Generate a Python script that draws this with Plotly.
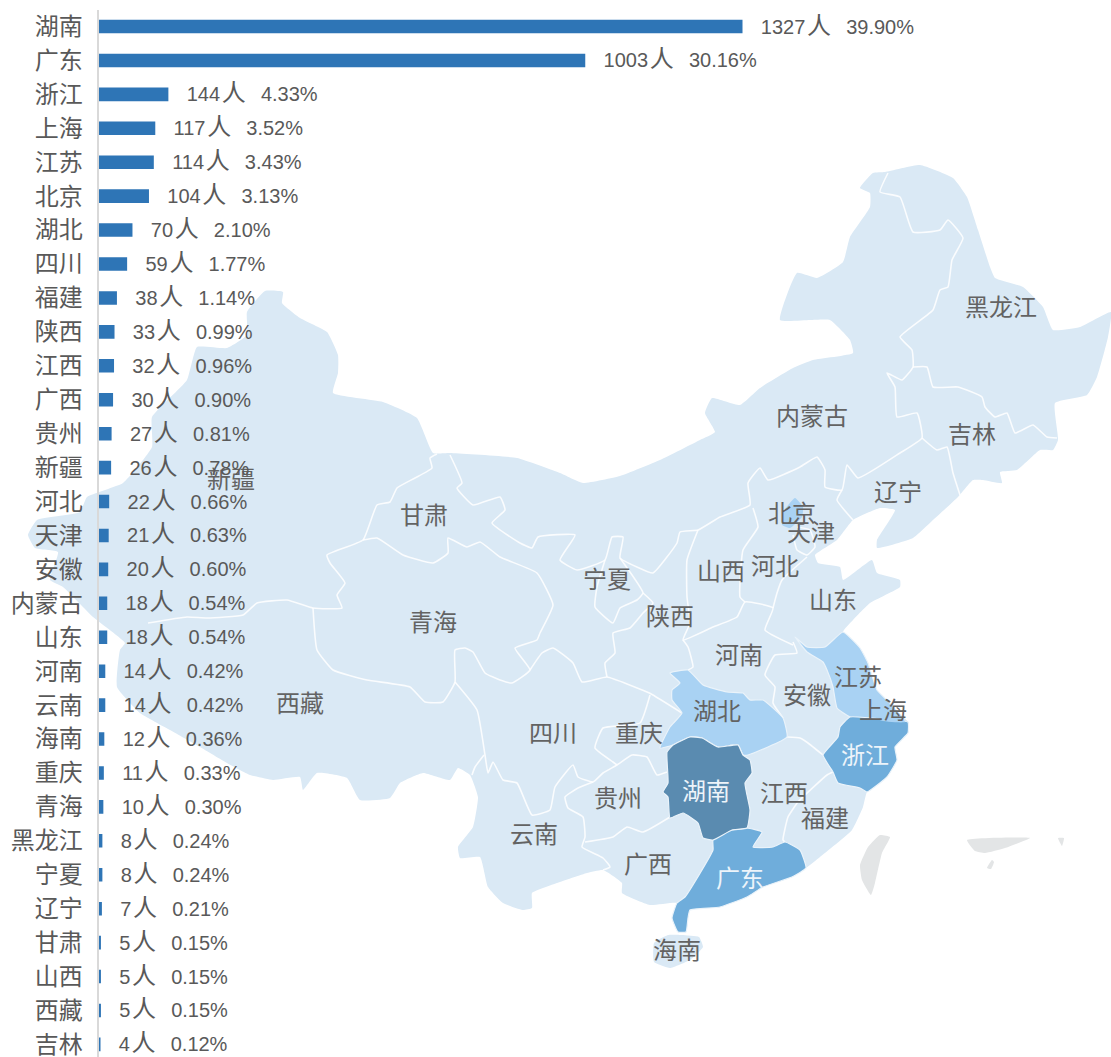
import plotly.graph_objects as go

# ---- bar data ----
provinces = ["湖南","广东","浙江","上海","江苏","北京","湖北","四川","福建","陕西","江西","广西","贵州","新疆","河北","天津","安徽","内蒙古","山东","河南","云南","海南","重庆","青海","黑龙江","宁夏","辽宁","甘肃","山西","西藏","吉林"]
counts = [1327,1003,144,117,114,104,70,59,38,33,32,30,27,26,22,21,20,18,18,14,14,12,11,10,8,8,7,5,5,5,4]
shares = ["39.90","30.16","4.33","3.52","3.43","3.13","2.10","1.77","1.14","0.99","0.96","0.90","0.81","0.78","0.66","0.63","0.60","0.54","0.54","0.42","0.42","0.36","0.33","0.30","0.24","0.24","0.21","0.15","0.15","0.15","0.12"]

# ---- map geometry (x, y in image pixels) ----
china_outline = [(265,291),(283,292),(282,303),(300,318),(327,332),(338,355),(338,373),(333,393),(383,402),(417,418),(433,453),(450,453),(517,458),(560,473),(583,483),(620,476),(660,460),(700,440),(715,432),(705,413),(712,398),(740,405),(760,388),(793,368),(813,360),(853,353),(850,340),(830,320),(810,320),(780,320),(797,273),(817,278),(843,262),(850,237),(870,207),(870,193),(860,188),(873,173),(885,172),(920,165),(953,178),(967,197),(978,230),(990,267),(995,278),(1023,287),(1043,307),(1053,330),(1080,327),(1111,312),(1108,337),(1097,377),(1087,395),(1055,403),(1058,440),(1053,450),(1040,450),(1017,470),(1000,472),(1002,483),(983,480),(973,480),(958,497),(933,520),(913,538),(877,548),(877,540),(895,510),(880,508),(853,520),(837,540),(815,555),(818,563),(840,567),(843,580),(872,560),(877,573),(900,580),(900,587),(870,603),(853,620),(843,632),(860,648),(868,663),(877,690),(893,707),(908,722),(908,733),(895,747),(897,760),(887,777),(867,792),(863,807),(852,830),(820,857),(806,868),(792,877),(763,887),(747,897),(720,907),(690,910),(688,918),(686,932),(678,932),(672,918),(677,903),(650,905),(622,893),(622,883),(603,870),(587,873),(557,883),(532,893),(532,908),(523,910),(503,903),(488,887),(480,857),(460,858),(458,847),(473,827),(478,797),(470,775),(458,768),(450,780),(423,773),(400,783),(390,798),(360,800),(347,778),(317,773),(303,790),(300,777),(273,780),(250,775),(227,763),(200,747),(170,730),(140,713),(117,687),(120,650),(125,643),(93,617),(63,587),(50,580),(58,552),(35,548),(28,535),(37,520),(80,512),(87,497),(123,483),(152,447),(152,417),(187,380),(197,347),(227,348),(247,335),(247,312)]
hainan_outline = [(682,935),(699,937),(703,947),(690,960),(670,968),(654,962),(654,943),(668,935)]
taiwan_outline = [(880,835),(890,837),(882,853),(875,883),(871,895),(862,880),(860,865),(868,847)]
south_sea_a = [(967,840),(1030,838),(1005,848),(985,853),(975,851)]
south_sea_b = [(1058,838),(1064,838),(1062,846)]
south_sea_c = [(987,868),(992,860),(994,862),(991,869)]

hunan_outline = [(667,752),(673,745),(690,737),(702,738),(718,747),(738,745),(743,755),(750,760),(752,773),(745,783),(750,810),(747,828),(732,830),(713,840),(703,838),(698,823),(683,813),(670,818),(668,797),(663,792),(668,783)]
hubei_outline = [(672,690),(680,683),(670,673),(688,670),(703,685),(727,692),(743,693),(750,700),(763,700),(783,718),(787,737),(748,755),(743,755),(738,745),(718,747),(702,738),(690,737),(673,745),(660,748),(670,727),(682,713),(672,700)]
guangdong_outline = [(677,903),(685,897),(713,850),(713,840),(732,830),(747,828),(762,832),(753,847),(773,847),(785,842),(800,850),(806,868),(792,877),(763,887),(747,897),(720,907),(690,910),(688,918),(686,932),(678,932),(672,918)]
zhejiang_outline = [(850,717),(890,720),(908,722),(908,733),(895,747),(897,760),(887,777),(867,792),(860,788),(838,783),(833,772),(823,755),(838,737),(840,727)]
jiangsu_outline = [(795,637),(807,647),(825,647),(843,632),(860,648),(868,663),(877,690),(893,707),(890,720),(850,717),(837,708),(833,687),(827,670),(823,662),(807,652)]
shanghai_outline = [(878,695),(893,707),(905,722),(880,720)]
beijing_outline = [(795,498),(803,507),(802,517),(790,528),(782,525),(783,512)]

borders = [
    [(148,623),(187,617),(207,618),(243,615),(257,603),(287,600),(313,608),(342,608),(337,595),(345,583),(330,563),(327,555),(363,540),(377,505),(390,502),(397,488),(415,478),(432,468),(430,458),(437,454)],
    [(450,455),(462,483),(457,488),(473,505),(500,497),(505,510),(492,523),(520,543),(532,548),(538,537),(575,535),(560,560),(577,570),(605,560),(612,537),(623,537),(620,558),(637,567),(653,573),(677,543),(680,532),(698,530),(720,517),(750,505),(748,483),(760,468),(768,480),(800,467),(817,457),(825,470),(825,487),(842,490),(847,465),(858,478),(900,453),(922,438),(917,413),(897,417),(895,387),(887,373),(902,380),(913,367),(912,350),(900,337),(933,310),(940,290),(948,287),(952,260),(963,238),(948,220),(940,230),(913,232),(900,197),(880,192),(888,173)],
    [(913,367),(927,367),(933,387),(958,387),(982,397),(985,407),(995,417),(1007,413),(1015,433),(1033,425),(1047,437),(1057,438)],
    [(922,438),(937,450),(947,447),(953,473),(960,495)],
    [(842,490),(837,500),(853,520)],
    [(605,560),(597,587),(595,607),(613,623),(620,608),(637,600),(643,593),(620,558)],
    [(643,593),(653,603),(643,613),(630,628),(613,633),(615,653),(605,663),(607,677)],
    [(363,540),(377,538),(403,555),(433,563),(448,553),(448,538),(467,547),(480,542),(500,557),(537,573),(553,605),(540,633),(537,640),(515,648),(530,670),(512,683),(500,680),(485,673),(473,652),(465,648),(455,650),(455,682),(443,702),(425,702),(410,687),(367,680),(333,670),(317,650),(313,608)],
    [(530,670),(542,653),(553,648),(573,663),(582,682),(607,677),(647,692),(653,695),(682,713)],
    [(455,682),(477,710),(485,755),(488,773),(493,762),(503,780),(517,783),(532,815),(550,810),(555,787),(573,765),(578,777),(593,782),(603,773),(617,765),(632,755),(647,757),(657,775),(667,772)],
    [(484,755),(475,767),(472,775)],
    [(650,695),(640,723),(603,728),(595,748),(613,762),(617,765)],
    [(593,782),(578,788),(565,797),(568,808),(583,817),(585,837),(582,847),(603,858),(610,867),(603,870)],
    [(585,842),(613,837),(627,827),(643,832),(670,817)],
    [(698,530),(687,560),(687,597),(690,623),(683,640),(713,627),(737,617),(745,602),(773,608),(765,630),(793,645)],
    [(683,640),(688,647),(693,667),(688,670)],
    [(753,508),(758,527),(743,550),(740,597),(745,602)],
    [(807,557),(782,580),(777,593),(773,608)],
    [(797,527),(810,530),(815,547),(807,555),(797,550),(793,535)],
    [(793,642),(797,653),(775,655),(765,675),(775,687),(773,703),(783,718)],
    [(787,737),(800,738),(808,743),(823,755)],
    [(833,772),(827,775),(798,802),(788,817),(783,840),(785,842)],
]

label_names = ["黑龙江","内蒙古","吉林","辽宁","新疆","甘肃","青海","西藏","宁夏","山西","河北","北京","天津","山东","陕西","河南","安徽","四川","重庆","贵州","云南","广西","江西","福建","海南","湖北","江苏","上海"]
label_x = [1001,812,972,898,231,424,433,300,607,721,775,792,811,833,670,739,807,553,639,618,534,648,784,825,677,717,858,883]
label_y = [310,419,437,495,482,518,625,706,582,574,569,516,535,603,619,658,698,736,736,801,837,867,796,821,953,714,680,713]
white_names = ["湖南","浙江","广东"]
white_x = [706,865,740]
white_y = [794,758,881]

COL_BASE = "#DAE9F5"
COL_LIGHT = "#A9D2F3"
COL_MID = "#6FADDB"
COL_DARK = "#5A8BB0"

def xs(p): return [a for a, _ in p]
def ys(p): return [b for _, b in p]

fig = go.Figure()

def poly(points, color, edge=None):
    closed = points + points[:1]
    fig.add_trace(go.Scatter(x=xs(closed), y=ys(closed), mode="lines", fill="toself", fillcolor=color,
                             line=dict(color=edge or color, width=1.2 if edge else 0, shape="spline", smoothing=0.4),
                             hoverinfo="skip", showlegend=False, xaxis="x", yaxis="y"))

poly(china_outline, COL_BASE)
poly(hainan_outline, COL_BASE)
for s in (taiwan_outline, south_sea_a, south_sea_b, south_sea_c):
    poly(s, "#E3E5E6")
for b in borders:
    fig.add_trace(go.Scatter(x=xs(b), y=ys(b), mode="lines",
                             line=dict(color="rgba(255,255,255,0.85)", width=1.6, shape="spline", smoothing=0.4),
                             hoverinfo="skip", showlegend=False, xaxis="x", yaxis="y"))
poly(hubei_outline, COL_LIGHT, "#EAF3FA")
poly(jiangsu_outline, COL_LIGHT, "#EAF3FA")
poly(beijing_outline, COL_LIGHT)
poly(zhejiang_outline, COL_MID, "#EAF3FA")
poly(shanghai_outline, COL_LIGHT)
poly(guangdong_outline, COL_MID, "#EAF3FA")
poly(hunan_outline, COL_DARK, "#EAF3FA")

CJK = "Noto Sans CJK SC"
fig.add_trace(go.Scatter(x=label_x, y=label_y, text=label_names, mode="text", textposition="middle center",
                         textfont=dict(family=CJK, size=24, color="#636363"), hoverinfo="skip", showlegend=False,
                         xaxis="x", yaxis="y"))
fig.add_trace(go.Scatter(x=white_x, y=white_y, text=white_names, mode="text", textposition="middle center",
                         textfont=dict(family=CJK, size=24, color="#EDF4FA"), hoverinfo="skip", showlegend=False,
                         xaxis="x", yaxis="y"))

fig.add_trace(go.Bar(x=counts, y=provinces, orientation="h", marker=dict(color="#2E75B6", line=dict(width=0)),
                     width=0.4, hoverinfo="skip", showlegend=False, xaxis="x2", yaxis="y2"))
labels = [f"\u00a0\u00a0\u00a0\u200a{c}\u200a<span style=\"font-family:'{CJK}';font-size:24px\">人</span>\u00a0\u00a0\u2009{s}%" for c, s in zip(counts, shares)]
fig.add_trace(go.Scatter(x=counts, y=provinces, text=labels, mode="text", textposition="middle right", cliponaxis=False,
                         textfont=dict(family="Liberation Sans", size=20, color="#595959"), hoverinfo="skip",
                         showlegend=False, xaxis="x2", yaxis="y3"))

px_per_person = 644 / 1327
row_px = 33.93
first_row_px = 26.5
top_px = first_row_px - row_px / 2
row_end = (1057 - first_row_px) / row_px
label_drop = 2 / row_px
fig.update_layout(
    width=1111, height=1057, margin=dict(l=0, r=0, t=0, b=0, autoexpand=False), paper_bgcolor="white", plot_bgcolor="rgba(0,0,0,0)",
    bargap=0.6, showlegend=False,
    xaxis=dict(domain=[0, 1], range=[0, 1111], visible=False, fixedrange=True, automargin=False),
    yaxis=dict(domain=[0, 1], range=[1057, 0], visible=False, fixedrange=True, automargin=False),
    xaxis2=dict(domain=[98.5 / 1111, 1], range=[0, (1111 - 98.5) / px_per_person], visible=False, fixedrange=True, anchor="y2", automargin=False),
    yaxis2=dict(domain=[0, 1 - top_px / 1057], range=[row_end, -0.5], type="category", categoryorder="array", categoryarray=provinces,
                anchor="x2", showgrid=False, showline=True, linecolor="#D9D9D9", linewidth=2, ticks="outside", ticklen=9, automargin=False,
                tickcolor="rgba(0,0,0,0)", tickfont=dict(family=CJK, size=24, color="#595959"), dtick=1, fixedrange=True),
    yaxis3=dict(domain=[0, 1 - top_px / 1057], range=[row_end - label_drop, -0.5 - label_drop], type="category", categoryorder="array",
                categoryarray=provinces, anchor="x2", overlaying="y2", visible=False, fixedrange=True, automargin=False),
)

fig.write_html("out.html", config=dict(displayModeBar=False),
               post_script="document.body.style.margin='0';document.body.style.overflow='hidden';")
